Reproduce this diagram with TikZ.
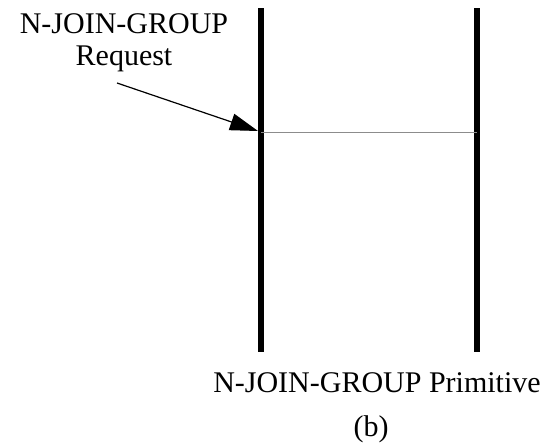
\documentclass[tikz,border=0pt]{standalone}
\usepackage{fontspec}
\setmainfont{Liberation Serif}
\usetikzlibrary{arrows.meta}
\begin{document}
\begin{tikzpicture}[x=1pt,y=-1pt,
  lifeline/.style={line width=6pt},
  msgline/.style={line width=1pt,draw=black!45},
  pointer/.style={line width=1.2pt,-{Triangle[length=28pt,width=17pt]}},
  lbl/.style={font=\fontsize{30}{32}\selectfont,inner sep=0pt,anchor=base,align=center}]
  \useasboundingbox (0,0) rectangle (543,447);
  % two primitives' lifelines
  \coordinate (aTop) at (261,8);
  \coordinate (aBot) at (261,352);
  \coordinate (bTop) at (477,8);
  \coordinate (bBot) at (477,352);
  \draw[lifeline] (aTop) -- (aBot);
  \draw[lifeline] (bTop) -- (bBot);
  % request message between the lifelines
  \coordinate (aMsg) at (261,132);
  \coordinate (bMsg) at (477,132);
  \draw[msgline] (aMsg) -- (bMsg);
  % label (baseline of its last line) and its pointer
  \node[lbl] (req) at (124,65) {N-JOIN-GROUP\\Request};
  \coordinate (ptrStart) at (117,83);
  \coordinate (ptrEnd) at (258,131);
  \draw[pointer] (ptrStart) -- (ptrEnd);
  % captions
  \node[lbl] (prim) at (377,392) {N-JOIN-GROUP Primitive};
  \node[lbl] (cap) at (371,436) {(b)};
\end{tikzpicture}
\end{document}
